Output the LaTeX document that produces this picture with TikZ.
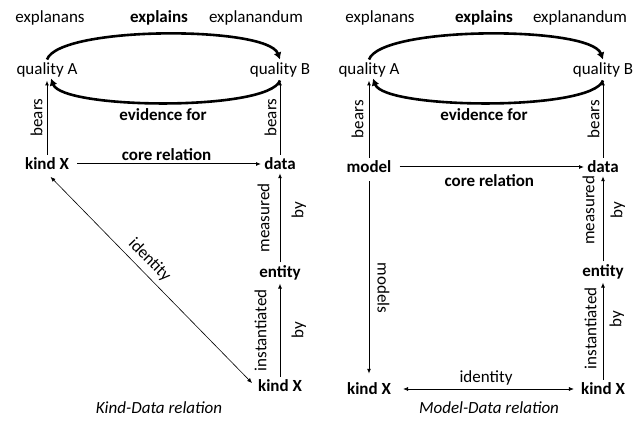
\documentclass[tikz,border=0pt]{standalone}
\usepackage{fontspec}
\setmainfont{Carlito}
\usetikzlibrary{positioning,arrows.meta}

\begin{document}
\begin{tikzpicture}[x=1pt,y=1pt,
  every node/.style={font=\fontsize{17}{20}\selectfont,inner sep=3pt},
  term/.style={font=\fontsize{17}{20}\selectfont\bfseries},
  captext/.style={font=\fontsize{17}{20}\selectfont\itshape},
  rel/.style={-{Latex[length=5pt,width=4pt]},line width=1pt},
  ident/.style={{Latex[length=5pt,width=4pt]}-{Latex[length=5pt,width=4pt]},line width=0.6pt},
  bigarc/.style={-{Latex[length=7pt,width=8pt]},line width=2.6pt}]
\useasboundingbox (0,0) rectangle (644,422);

% left panel: kind-data
\node (lexplanans) at (50,404) {explanans};
\node[term] (lexplains) at (159,404) {explains};
\node (lexplanandum) at (256,404) {explanandum};
\node (lqa) at (47,352) {quality A};
\node (lqb) at (280,352) {quality B};
\node[term] (levid) at (163,307) {evidence for};
\node[term] (lkind) at (47,258) {kind X};
\node[term] (ldata) at (280,258) {data};
\node[term] (lentity) at (280,149) {entity};
\node[term] (lkindb) at (280,36) {kind X};
\node[captext] (lcap) at (159,14) {Kind-Data relation};

\draw[bigarc] (lqa.north) .. controls +(70:36) and +(110:36) .. (lqb.north);
\draw[bigarc] (lqb.south) .. controls +(-110:33) and +(-70:33) .. ([xshift=4pt,yshift=2pt]lqa.south);
\draw[rel] (lkind) -- node[above=1pt,sloped] {bears} (lqa);
\draw[rel] (ldata) -- node[above=0pt,sloped] {bears} (lqb);
\draw[rel,shorten <=5pt] (lkind) -- node[above,term] {core relation} (ldata);
\draw[rel] (lentity) -- node[above=7pt,sloped] {measured}
  node[pos=0.59,below=8pt,sloped] {by} (ldata);
\draw[rel] (lkindb) -- node[above=10pt,sloped] {instantiated}
  node[below=8pt,sloped] {by} (lentity);
\draw[ident,shorten <=5pt,shorten >=4pt] (lkind.south) -- node[pos=0.45,above=2pt,sloped] {identity} (lkindb.west);

% right panel: model-data
\node (rexplanans) at (380,404) {explanans};
\node[term] (rexplains) at (484,404) {explains};
\node (rexplanandum) at (580,404) {explanandum};
\node (rqa) at (369,352) {quality A};
\node (rqb) at (603,352) {quality B};
\node[term] (revid) at (484,307) {evidence for};
\node[term] (rmodel) at (369,255) {model};
\node[term] (rdata) at (603,255) {data};
\node[term] (rentity) at (603,150) {entity};
\node[term] (rkindl) at (369,33) {kind X};
\node[term] (rkindr) at (603,33) {kind X};
\node[captext] (rcap) at (489,14) {Model-Data relation};

\draw[bigarc] (rqa.north) .. controls +(70:36) and +(110:36) .. (rqb.north);
\draw[bigarc] (rqb.south) .. controls +(-110:33) and +(-70:33) .. ([xshift=4pt,yshift=2pt]rqa.south);
\draw[rel] (rmodel) -- node[above=2pt,sloped] {bears} (rqa);
\draw[rel] (rdata) -- node[above=0pt,sloped] {bears} (rqb);
\draw[rel,shorten <=5pt] (rmodel) -- node[below=4pt,term] {core relation} (rdata);
\draw[rel] (rentity) -- node[pos=0.6,above=5pt,sloped] {measured}
  node[pos=0.6,below=4pt,sloped] {by} (rdata);
\draw[rel] (rkindr) -- node[pos=0.53,above=3pt,sloped] {instantiated}
  node[pos=0.62,below=3pt,sloped] {by} (rentity);
\draw[rel,shorten <=5pt,shorten >=6pt] (rmodel) -- node[pos=0.55,above=5pt,sloped] {models} (rkindl);
\draw[ident,shorten <=9pt,shorten >=4pt] (rkindl) -- node[above] {identity} (rkindr);
\end{tikzpicture}
\end{document}
